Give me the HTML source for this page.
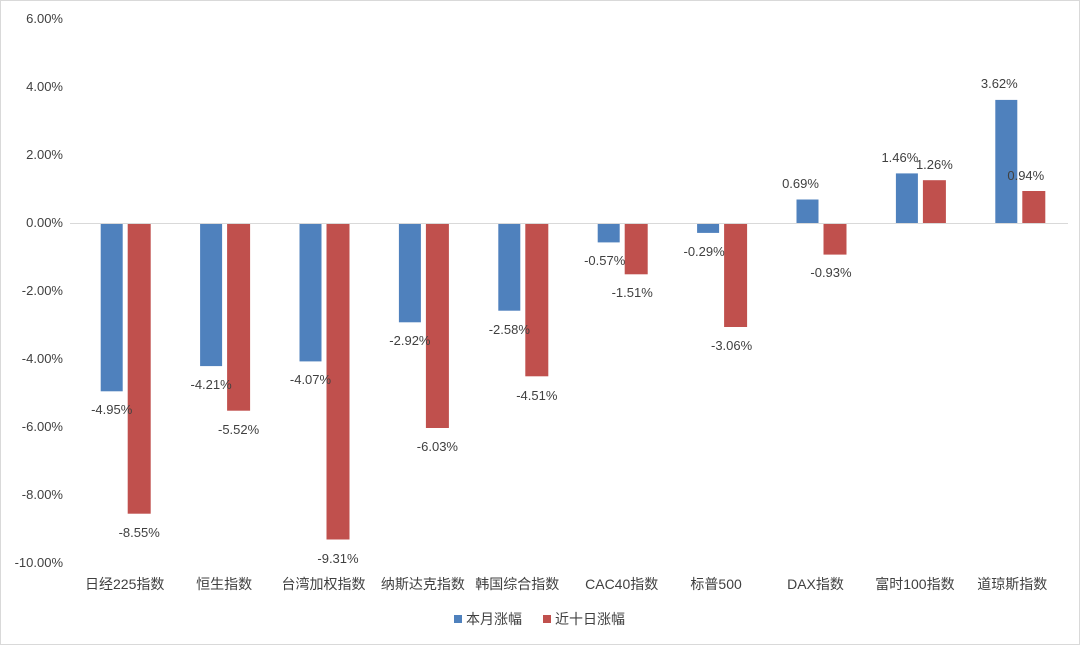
<!DOCTYPE html>
<html><head><meta charset="utf-8"><style>
html,body{margin:0;padding:0;background:#fff}
svg{display:block}
text{font-family:"Liberation Sans","Noto Sans CJK SC",sans-serif;fill:#404040}
</style></head><body>
<svg width="1080" height="645" viewBox="0 0 1080 645" xmlns="http://www.w3.org/2000/svg">
<rect x="0.5" y="0.5" width="1079" height="644" fill="#fff" stroke="#d9d9d9"/>
<g font-size="13" text-anchor="end" style="fill:#595959">
<text x="63" y="23">6.00%</text>
<text x="63" y="91">4.00%</text>
<text x="63" y="159">2.00%</text>
<text x="63" y="227">0.00%</text>
<text x="63" y="295">-2.00%</text>
<text x="63" y="363">-4.00%</text>
<text x="63" y="431">-6.00%</text>
<text x="63" y="499">-8.00%</text>
<text x="63" y="567">-10.00%</text>
</g>
<g fill="#4F81BD">
<rect x="100.7" y="223" width="22" height="168.3"/>
<rect x="200.1" y="223" width="22" height="143.1"/>
<rect x="299.5" y="223" width="22" height="138.4"/>
<rect x="398.9" y="223" width="22" height="99.3"/>
<rect x="498.3" y="223" width="22" height="87.7"/>
<rect x="597.7" y="223" width="22" height="19.4"/>
<rect x="697.1" y="223" width="22" height="9.9"/>
<rect x="796.5" y="199.5" width="22" height="23.5"/>
<rect x="895.9" y="173.4" width="22" height="49.6"/>
<rect x="995.3" y="99.9" width="22" height="123.1"/>
</g>
<g fill="#C0504D">
<rect x="127.7" y="223" width="23" height="290.7"/>
<rect x="227.1" y="223" width="23" height="187.7"/>
<rect x="326.5" y="223" width="23" height="316.5"/>
<rect x="425.9" y="223" width="23" height="205"/>
<rect x="525.3" y="223" width="23" height="153.3"/>
<rect x="624.7" y="223" width="23" height="51.3"/>
<rect x="724.1" y="223" width="23" height="104"/>
<rect x="823.5" y="223" width="23" height="31.6"/>
<rect x="922.9" y="180.2" width="23" height="42.8"/>
<rect x="1022.3" y="191" width="23" height="32"/>
</g>
<line x1="70" y1="223.5" x2="1068" y2="223.5" stroke="#d9d9d9" stroke-width="1"/>
<g font-size="13" text-anchor="middle">
<text x="111.7" y="414">-4.95%</text>
<text x="211.1" y="389">-4.21%</text>
<text x="310.5" y="384">-4.07%</text>
<text x="409.9" y="345">-2.92%</text>
<text x="509.3" y="334">-2.58%</text>
<text x="604.7" y="265">-0.57%</text>
<text x="704.1" y="256">-0.29%</text>
<text x="800.5" y="188">0.69%</text>
<text x="899.9" y="162">1.46%</text>
<text x="999.3" y="88">3.62%</text>
<text x="139.2" y="537">-8.55%</text>
<text x="238.6" y="434">-5.52%</text>
<text x="338" y="563">-9.31%</text>
<text x="437.4" y="451">-6.03%</text>
<text x="536.8" y="400">-4.51%</text>
<text x="632.2" y="297">-1.51%</text>
<text x="731.6" y="350">-3.06%</text>
<text x="831" y="277">-0.93%</text>
<text x="934.4" y="169">1.26%</text>
<text x="1025.8" y="180">0.94%</text>
</g>
<g font-size="14" text-anchor="middle">
<text x="124.7" y="589">日经225指数</text>
<text x="224.1" y="589">恒生指数</text>
<text x="323.5" y="589">台湾加权指数</text>
<text x="422.9" y="589">纳斯达克指数</text>
<text x="517.3" y="589">韩国综合指数</text>
<text x="621.7" y="589">CAC40指数</text>
<text x="716.1" y="589">标普500</text>
<text x="815.5" y="589">DAX指数</text>
<text x="914.9" y="589">富时100指数</text>
<text x="1012.3" y="589">道琼斯指数</text>
</g>
<rect x="454" y="615" width="8" height="8" fill="#4F81BD"/>
<text x="466" y="624" font-size="14">本月涨幅</text>
<rect x="543" y="615" width="8" height="8" fill="#C0504D"/>
<text x="555" y="624" font-size="14">近十日涨幅</text>
</svg>
</body></html>
